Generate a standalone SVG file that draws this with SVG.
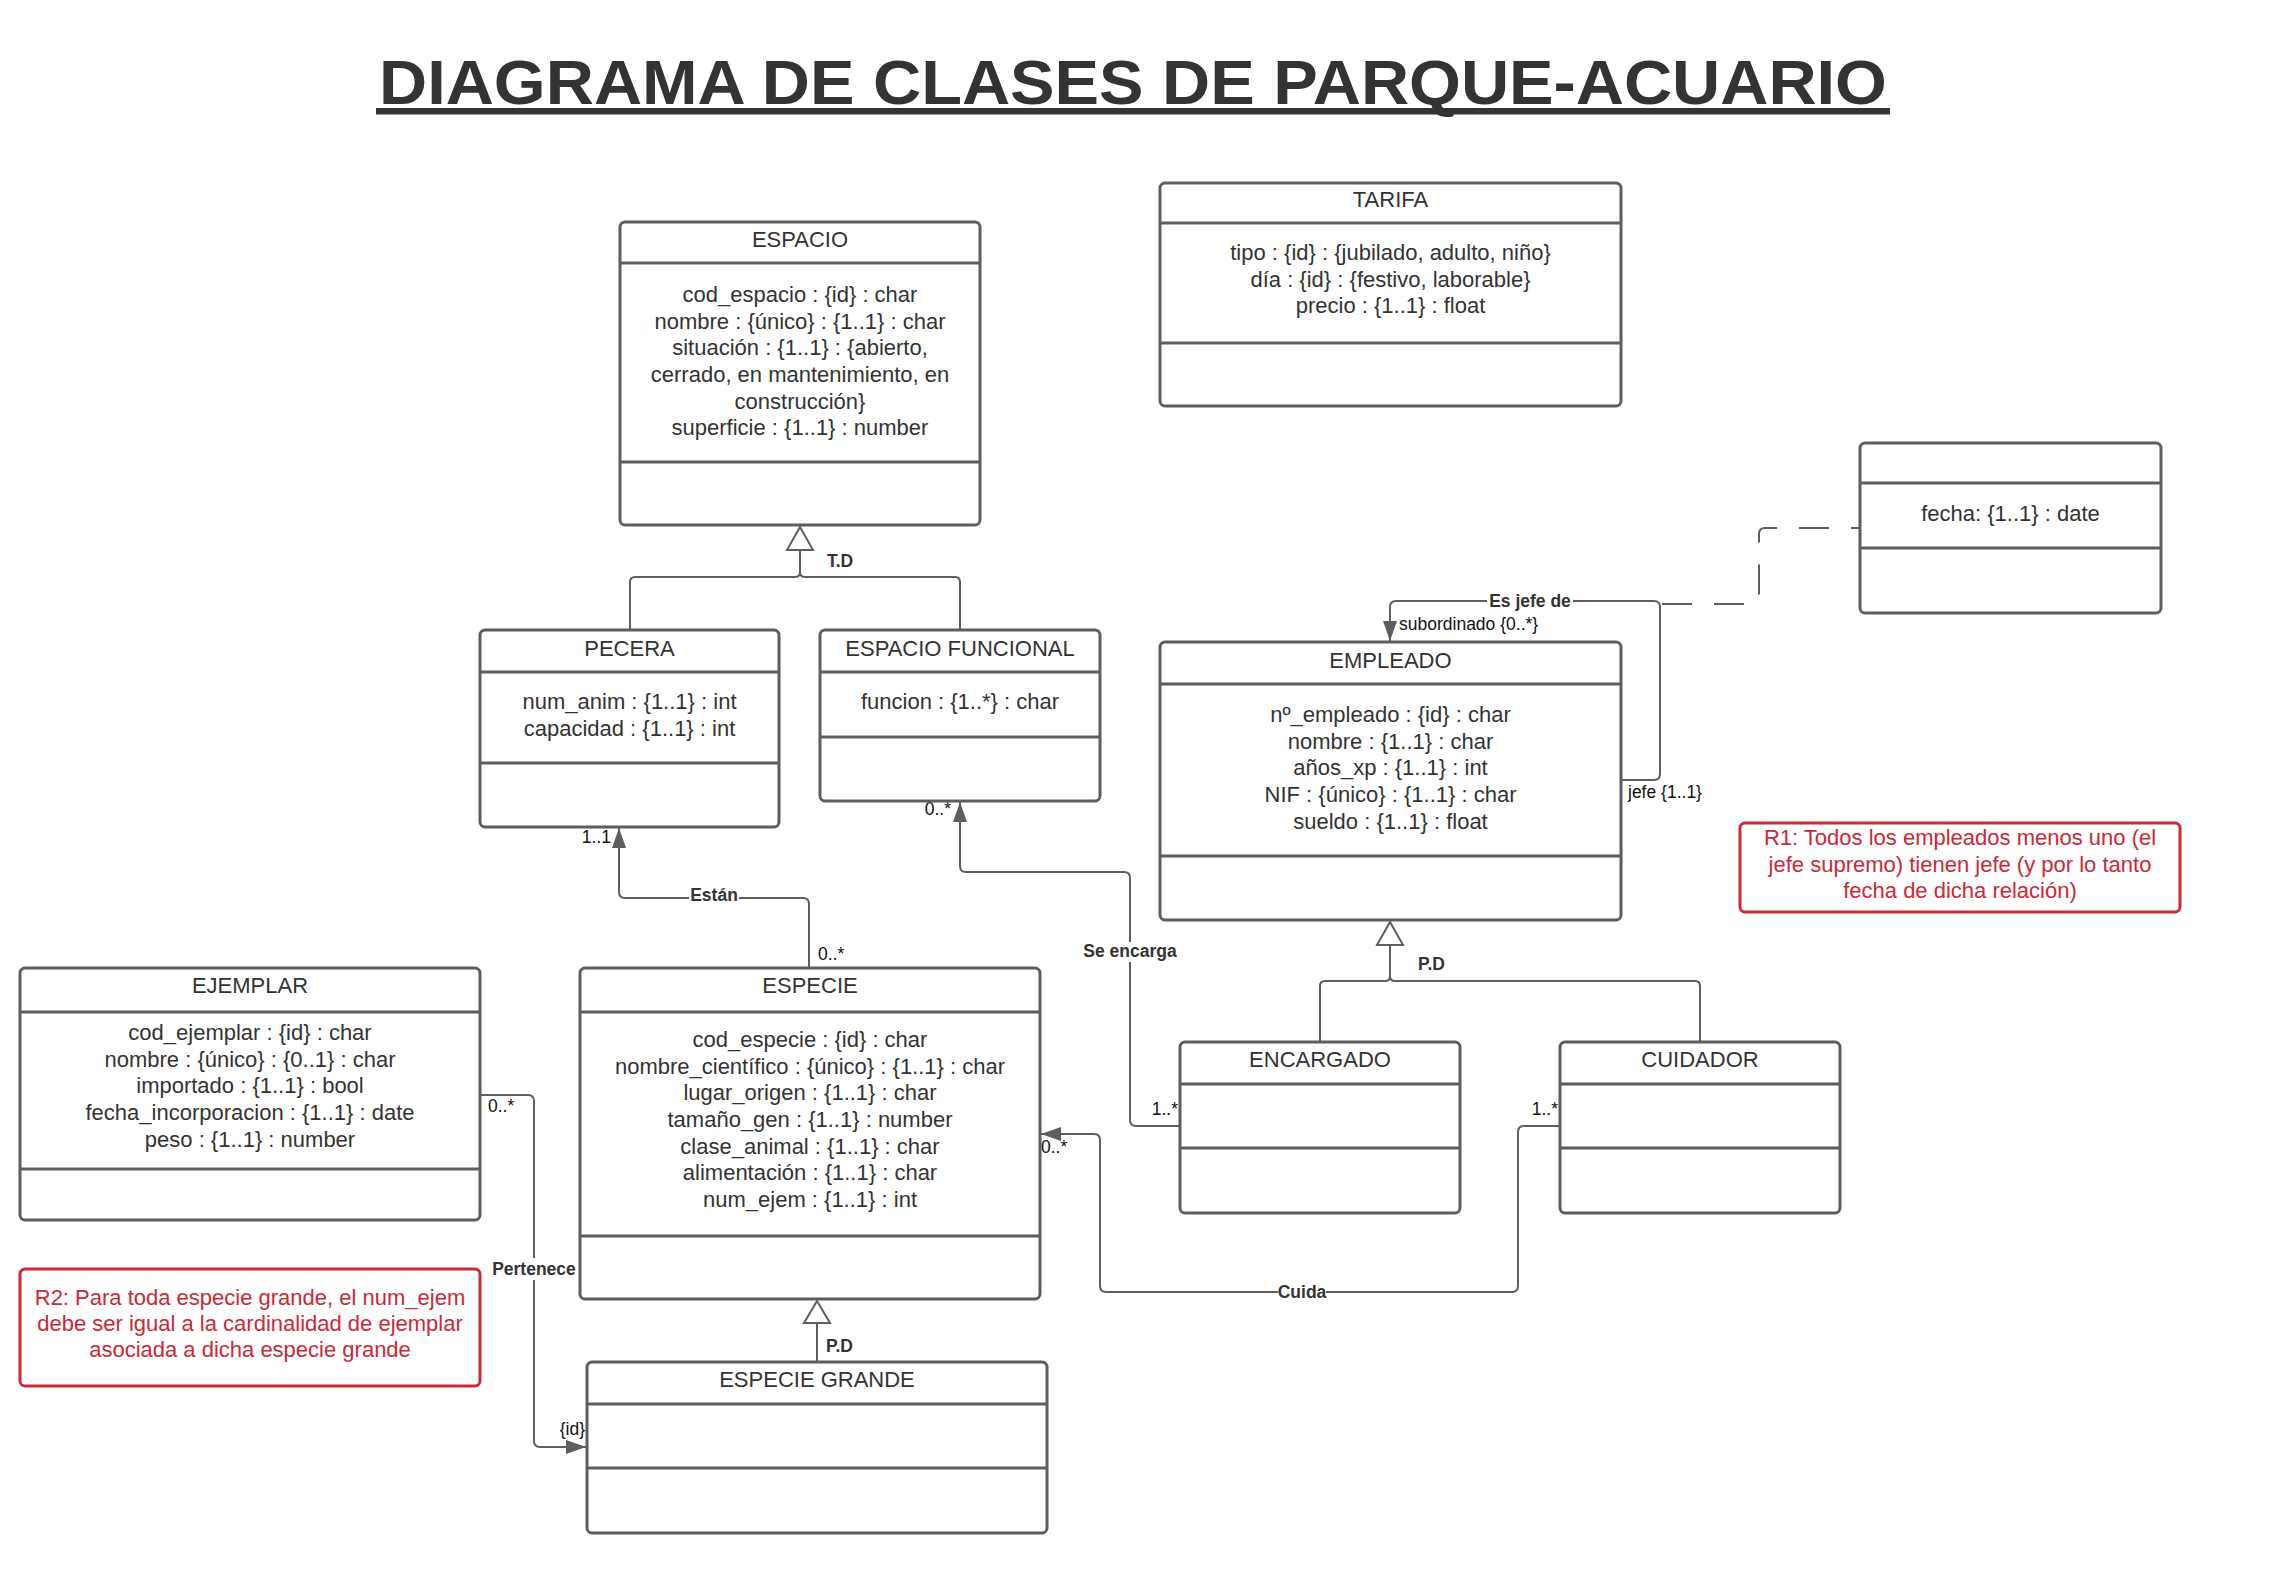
<svg xmlns="http://www.w3.org/2000/svg" width="2294" height="1573" viewBox="0 0 2294 1573">
<defs>
<style>
.box{fill:#fff;stroke:#5e5e5e;stroke-width:3}
.div{stroke:#5e5e5e;stroke-width:3}
.note{fill:#fff;stroke:#cc2936;stroke-width:3}
.t{font-family:"Liberation Sans",Arial,sans-serif;font-size:22px;fill:#333;text-anchor:middle}
.r{font-family:"Liberation Sans",Arial,sans-serif;font-size:22px;fill:#cc2936;text-anchor:middle}
.lb{font-family:"Liberation Sans",Arial,sans-serif;font-size:17.5px;font-weight:bold;fill:#333}
.ls{font-family:"Liberation Sans",Arial,sans-serif;font-size:17.5px;fill:#111}
.c{fill:none;stroke:#5e5e5e;stroke-width:2}
.gen{fill:#fff;stroke:#5e5e5e;stroke-width:2}
.bg{fill:#fff}
</style>
<marker id="arr" markerUnits="userSpaceOnUse" markerWidth="20" markerHeight="14" refX="20" refY="7" orient="auto">
<path d="M0,0 L20,7 L0,14 z" fill="#5e5e5e"/>
</marker>
</defs>
<rect width="2294" height="1573" fill="#fff"/>

<g id="title">
<text x="1133" y="104" font-family="Liberation Sans,Arial,sans-serif" font-size="63" font-weight="bold" fill="#333" text-anchor="middle" textLength="1508" lengthAdjust="spacingAndGlyphs">DIAGRAMA DE CLASES DE PARQUE-ACUARIO</text>
<rect x="376" y="108" width="1514" height="6.5" fill="#333"/>
</g>

<g id="connectors">
<!-- generalization ESPACIO -->
<path class="c" d="M630,630 V582 Q630,577 635,577 H795 Q800,577 800,572 V550"/>
<path class="c" d="M960,630 V582 Q960,577 955,577 H805 Q800,577 800,572"/>
<polygon class="gen" points="800,527 787,550 813,550"/>
<text class="lb" x="827" y="567">T.D</text>
<!-- Están -->
<path class="c" d="M809,968 V904 Q809,898 803,898 H625 Q619,898 619,892 V828" marker-end="url(#arr)"/>
<rect class="bg" x="689" y="888" width="50" height="18"/>
<text class="lb" x="714" y="901" text-anchor="middle">Están</text>
<text class="ls" x="611" y="843" text-anchor="end">1..1</text>
<text class="ls" x="818" y="960">0..*</text>
<!-- Se encarga -->
<path class="c" d="M1180,1126 H1136 Q1130,1126 1130,1120 V878 Q1130,872 1124,872 H966 Q960,872 960,866 V802" marker-end="url(#arr)"/>
<rect class="bg" x="1084" y="942" width="92" height="20"/>
<text class="lb" x="1130" y="957" text-anchor="middle">Se encarga</text>
<text class="ls" x="951" y="815" text-anchor="end">0..*</text>
<text class="ls" x="1178" y="1115" text-anchor="end">1..*</text>
<!-- Cuida -->
<path class="c" d="M1560,1126 H1524 Q1518,1126 1518,1132 V1286 Q1518,1292 1512,1292 H1106 Q1100,1292 1100,1286 V1140 Q1100,1134 1094,1134 H1041" marker-end="url(#arr)"/>
<rect class="bg" x="1278" y="1282" width="48" height="20"/>
<text class="lb" x="1302" y="1298" text-anchor="middle">Cuida</text>
<text class="ls" x="1558" y="1115" text-anchor="end">1..*</text>
<text class="ls" x="1041" y="1153">0..*</text>
<!-- Pertenece -->
<path class="c" d="M480,1095 H528 Q534,1095 534,1101 V1441 Q534,1447 540,1447 H586" marker-end="url(#arr)"/>
<rect class="bg" x="490" y="1258" width="88" height="22"/>
<text class="lb" x="534" y="1275" text-anchor="middle">Pertenece</text>
<text class="ls" x="488" y="1112">0..*</text>
<text class="ls" x="585" y="1435" text-anchor="end">{id}</text>
<!-- generalization ESPECIE -->
<path class="c" d="M817,1362 V1323"/>
<polygon class="gen" points="817,1301 804,1323 830,1323"/>
<text class="lb" x="826" y="1352">P.D</text>
<!-- generalization EMPLEADO -->
<path class="c" d="M1320,1042 V986 Q1320,981 1325,981 H1385 Q1390,981 1390,976 V945"/>
<path class="c" d="M1700,1042 V986 Q1700,981 1695,981 H1395 Q1390,981 1390,976"/>
<polygon class="gen" points="1390,922 1377,945 1403,945"/>
<text class="lb" x="1418" y="970">P.D</text>
<!-- Es jefe de (self association) -->
<path class="c" d="M1621,780 H1654 Q1660,780 1660,774 V607 Q1660,601 1654,601 H1396 Q1390,601 1390,607 V641" marker-end="url(#arr)"/>
<rect class="bg" x="1487" y="591" width="86" height="20"/>
<text class="lb" x="1530" y="607" text-anchor="middle">Es jefe de</text>
<text class="ls" x="1399" y="630">subordinado {0..*}</text>
<text class="ls" x="1628" y="798">jefe {1..1}</text>
<!-- association class link -->
<path class="c" d="M1662,604 H1753 Q1759,604 1759,598 V534 Q1759,528 1765,528 H1860" stroke-dasharray="30 22"/>
</g>

<g id="espacio">
<rect class="box" x="620" y="222" width="360" height="303" rx="5"/>
<line class="div" x1="620" y1="263" x2="980" y2="263"/>
<line class="div" x1="620" y1="462" x2="980" y2="462"/>
<text class="t" x="800" y="247">ESPACIO</text>
<text class="t" x="800" y="302">cod_espacio : {id} : char</text>
<text class="t" x="800" y="328.7">nombre : {único} : {1..1} : char</text>
<text class="t" x="800" y="355.3">situación : {1..1} : {abierto,</text>
<text class="t" x="800" y="382">cerrado, en mantenimiento, en</text>
<text class="t" x="800" y="408.7">construcción}</text>
<text class="t" x="800" y="435.3">superficie : {1..1} : number</text>
</g>

<g id="tarifa">
<rect class="box" x="1160" y="183" width="461" height="223" rx="5"/>
<line class="div" x1="1160" y1="223" x2="1621" y2="223"/>
<line class="div" x1="1160" y1="343" x2="1621" y2="343"/>
<text class="t" x="1390.5" y="207">TARIFA</text>
<text class="t" x="1390.5" y="260">tipo : {id} : {jubilado, adulto, niño}</text>
<text class="t" x="1390.5" y="287">día : {id} : {festivo, laborable}</text>
<text class="t" x="1390.5" y="313">precio : {1..1} : float</text>
</g>

<g id="pecera">
<rect class="box" x="480" y="630" width="299" height="197" rx="5"/>
<line class="div" x1="480" y1="672" x2="779" y2="672"/>
<line class="div" x1="480" y1="763" x2="779" y2="763"/>
<text class="t" x="629.5" y="656">PECERA</text>
<text class="t" x="629.5" y="709">num_anim : {1..1} : int</text>
<text class="t" x="629.5" y="736">capacidad : {1..1} : int</text>
</g>

<g id="espacio-funcional">
<rect class="box" x="820" y="630" width="280" height="171" rx="5"/>
<line class="div" x1="820" y1="672" x2="1100" y2="672"/>
<line class="div" x1="820" y1="737" x2="1100" y2="737"/>
<text class="t" x="960" y="656">ESPACIO FUNCIONAL</text>
<text class="t" x="960" y="709">funcion : {1..*} : char</text>
</g>

<g id="empleado">
<rect class="box" x="1160" y="642" width="461" height="278" rx="5"/>
<line class="div" x1="1160" y1="684" x2="1621" y2="684"/>
<line class="div" x1="1160" y1="856" x2="1621" y2="856"/>
<text class="t" x="1390.5" y="668">EMPLEADO</text>
<text class="t" x="1390.5" y="722">nº_empleado : {id} : char</text>
<text class="t" x="1390.5" y="748.7">nombre : {1..1} : char</text>
<text class="t" x="1390.5" y="775.3">años_xp : {1..1} : int</text>
<text class="t" x="1390.5" y="802">NIF : {único} : {1..1} : char</text>
<text class="t" x="1390.5" y="828.7">sueldo : {1..1} : float</text>
</g>

<g id="jefe-fecha">
<rect class="box" x="1860" y="443" width="301" height="170" rx="5"/>
<line class="div" x1="1860" y1="483" x2="2161" y2="483"/>
<line class="div" x1="1860" y1="548" x2="2161" y2="548"/>
<text class="t" x="2010.5" y="521">fecha: {1..1} : date</text>
</g>

<g id="r1">
<rect class="note" x="1740" y="823" width="440" height="89" rx="5"/>
<text class="r" x="1960" y="845">R1: Todos los empleados menos uno (el</text>
<text class="r" x="1960" y="872">jefe supremo) tienen jefe (y por lo tanto</text>
<text class="r" x="1960" y="898">fecha de dicha relación)</text>
</g>

<g id="ejemplar">
<rect class="box" x="20" y="968" width="460" height="252" rx="5"/>
<line class="div" x1="20" y1="1012" x2="480" y2="1012"/>
<line class="div" x1="20" y1="1169" x2="480" y2="1169"/>
<text class="t" x="250" y="993">EJEMPLAR</text>
<text class="t" x="250" y="1040">cod_ejemplar : {id} : char</text>
<text class="t" x="250" y="1067">nombre : {único} : {0..1} : char</text>
<text class="t" x="250" y="1093">importado : {1..1} : bool</text>
<text class="t" x="250" y="1120">fecha_incorporacion : {1..1} : date</text>
<text class="t" x="250" y="1147">peso : {1..1} : number</text>
</g>

<g id="especie">
<rect class="box" x="580" y="968" width="460" height="331" rx="5"/>
<line class="div" x1="580" y1="1012" x2="1040" y2="1012"/>
<line class="div" x1="580" y1="1236" x2="1040" y2="1236"/>
<text class="t" x="810" y="993">ESPECIE</text>
<text class="t" x="810" y="1047">cod_especie : {id} : char</text>
<text class="t" x="810" y="1073.7">nombre_científico : {único} : {1..1} : char</text>
<text class="t" x="810" y="1100.3">lugar_origen : {1..1} : char</text>
<text class="t" x="810" y="1127">tamaño_gen : {1..1} : number</text>
<text class="t" x="810" y="1153.7">clase_animal : {1..1} : char</text>
<text class="t" x="810" y="1180.3">alimentación : {1..1} : char</text>
<text class="t" x="810" y="1207">num_ejem : {1..1} : int</text>
</g>

<g id="encargado">
<rect class="box" x="1180" y="1042" width="280" height="171" rx="5"/>
<line class="div" x1="1180" y1="1084" x2="1460" y2="1084"/>
<line class="div" x1="1180" y1="1148" x2="1460" y2="1148"/>
<text class="t" x="1320" y="1067">ENCARGADO</text>
</g>

<g id="cuidador">
<rect class="box" x="1560" y="1042" width="280" height="171" rx="5"/>
<line class="div" x1="1560" y1="1084" x2="1840" y2="1084"/>
<line class="div" x1="1560" y1="1148" x2="1840" y2="1148"/>
<text class="t" x="1700" y="1067">CUIDADOR</text>
</g>

<g id="r2">
<rect class="note" x="20" y="1269" width="460" height="117" rx="5"/>
<text class="r" x="250" y="1305">R2: Para toda especie grande, el num_ejem</text>
<text class="r" x="250" y="1331">debe ser igual a la cardinalidad de ejemplar</text>
<text class="r" x="250" y="1357">asociada a dicha especie grande</text>
</g>

<g id="especie-grande">
<rect class="box" x="587" y="1362" width="460" height="171" rx="5"/>
<line class="div" x1="587" y1="1404" x2="1047" y2="1404"/>
<line class="div" x1="587" y1="1468" x2="1047" y2="1468"/>
<text class="t" x="817" y="1387">ESPECIE GRANDE</text>
</g>
</svg>
